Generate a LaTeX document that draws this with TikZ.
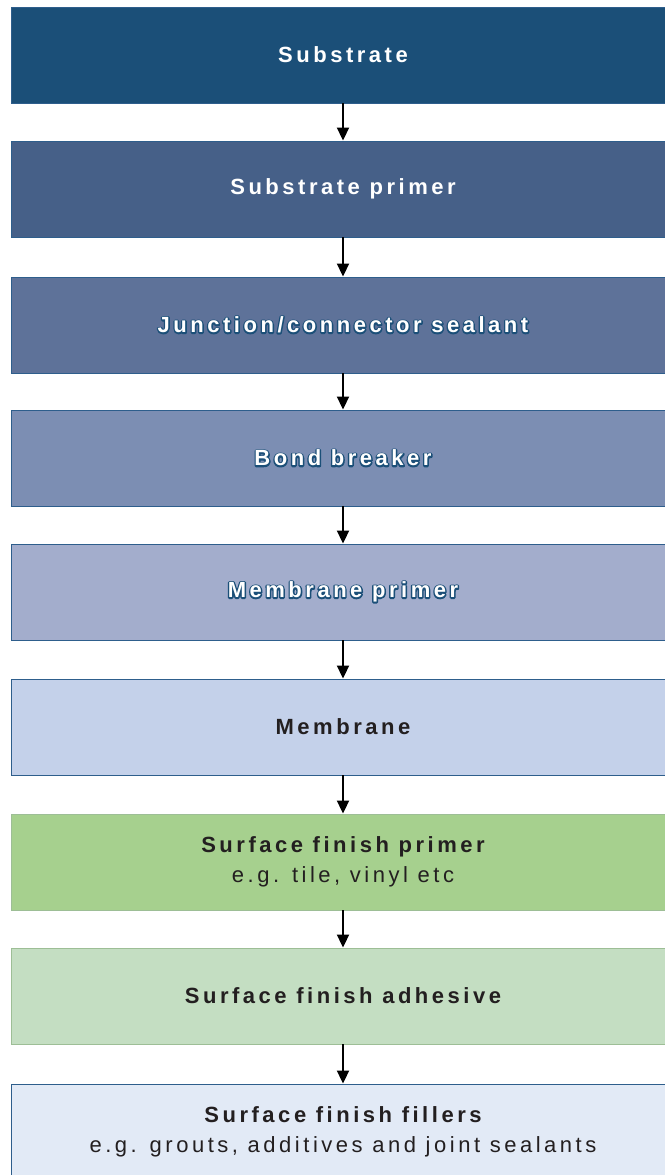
\documentclass[tikz,border=0pt]{standalone}
\usepackage{fontspec}
\setmainfont{Liberation Sans}
\newfontfamily\spaced[LetterSpace=16]{Liberation Sans}
\usetikzlibrary{arrows.meta}
\definecolor{cA}{HTML}{1B4F78}
\definecolor{cB}{HTML}{466088}
\definecolor{cC}{HTML}{5E7299}
\definecolor{cD}{HTML}{7C8EB3}
\definecolor{cE}{HTML}{A3ADCC}
\definecolor{cF}{HTML}{C4D1EA}
\definecolor{cG}{HTML}{A6D08E}
\definecolor{cH}{HTML}{C4DEC2}
\definecolor{cI}{HTML}{E2EAF6}
\definecolor{edgeblue}{HTML}{2E5E8C}
\definecolor{edgegreen}{HTML}{9DBE96}
\definecolor{darktext}{HTML}{231F20}
\tikzset{
  layer/.style={rectangle, minimum width=664pt, minimum height=96pt, inner sep=0pt,
    draw=edgeblue, line width=0.9pt, align=center,
    font=\spaced\fontsize{22}{30}\selectfont},
  greenlayer/.style={layer, draw=edgegreen},
  flow/.style={draw=black, line width=1.9pt, -{Triangle[width=12pt,length=13pt]}}
}
\newcommand{\outlined}[1]{\rlap{\textcolor{white}{\special{pdf:literal direct 1 Tr 2.8 w 1 J 1 j 0.106 0.310 0.471 RG}#1\special{pdf:literal direct 0 Tr}}}\textcolor{white}{#1}}
\begin{document}
\begin{tikzpicture}[x=1pt,y=-1pt]
\useasboundingbox (0,0) rectangle (664,1175);
\node[layer, fill=cA, text=white] (n1) at (343,55) {\bfseries Substrate};
\node[layer, fill=cB, text=white] (n2) at (343,189) {\bfseries Substrate primer};
\node[layer, fill=cC] (n3) at (343,325) {\bfseries\outlined{Junction/connector sealant}};
\node[layer, fill=cD] (n4) at (343,458) {\bfseries\outlined{Bond breaker}};
\node[layer, fill=cE] (n5) at (343,592) {\bfseries\outlined{Membrane primer}};
\node[layer, fill=cF, text=darktext] (n6) at (343,727) {\bfseries Membrane};
\node[greenlayer, fill=cG, text=darktext] (n7) at (343,862) {\bfseries Surface finish primer\\ e.g. tile, vinyl etc};
\node[greenlayer, fill=cH, text=darktext] (n8) at (343,996) {\bfseries Surface finish adhesive};
\node[layer, fill=cI, text=darktext] (n9) at (343,1132) {\bfseries Surface finish fillers\\ e.g. grouts, additives and joint sealants};
\foreach \a/\b in {n1/n2,n2/n3,n3/n4,n4/n5,n5/n6,n6/n7,n7/n8,n8/n9}
  \draw[flow] (\a.south) -- (\b.north);
\end{tikzpicture}
\end{document}
